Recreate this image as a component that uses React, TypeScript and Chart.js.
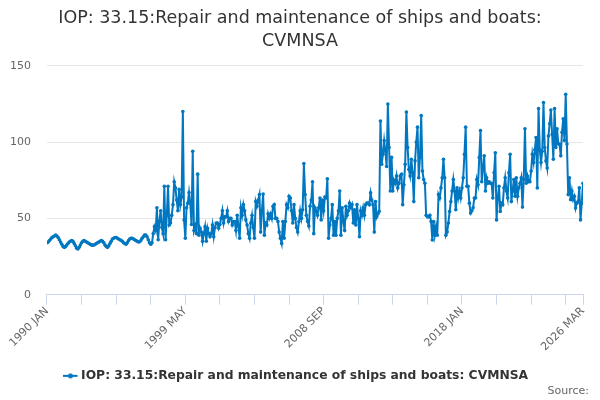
import React, { useEffect, useRef } from 'react';
import { Chart, registerables } from 'chart.js';

Chart.register(...registerables);

const startYear = 1990;
const monthNames = ['JAN', 'FEB', 'MAR', 'APR', 'MAY', 'JUN', 'JUL', 'AUG', 'SEP', 'OCT', 'NOV', 'DEC'];

// 1990 JAN .. 1997 FEB (smooth period)
const values1990 = [
  34, 34.5, 35.5, 36.5, 37.5, 38, 38.5, 39,
  38.5, 37.5, 36, 34.5, 33, 31.5, 31,
  31.5, 32.5, 33.5, 34.5, 35, 35.5, 35,
  33.5, 32, 30.5, 30,
  31, 32.5, 34, 35, 35.5, 35, 34.5,
  34, 33.5, 33, 32.5, 32.5, 32.5,
  33, 33.5, 34, 34.5, 35, 35.5, 35,
  34, 32.5, 31.5, 31,
  32, 33.5, 35, 36.5, 37, 37.5, 37.5,
  37, 36.5, 36, 35.5, 35, 34, 33.5, 33,
  34, 35.5, 36.5, 37, 37,
  36.5, 36, 35.5, 35, 34.5, 34.7,
  35.5, 37, 38, 39, 39,
  38, 36, 34, 33, 34,
];

// 1997 MAR .. 2007 FEB
const values1997 = [
  40, 44.6, 42, 57, 36, 48, 55, 44, 40, 71,
  36, 52, 71, 45.7, 47, 52, 59, 74, 70, 62,
  55, 69, 59, 64, 120, 49, 37, 57, 60, 67,
  60, 46, 94, 42, 45, 40, 79, 39, 43.5, 41,
  35, 40, 44.6, 35, 43.5, 40, 38, 40, 45.7, 38,
  44, 47, 47, 43.5, 46, 50, 55, 47, 51, 51,
  55, 48, 50, 50, 45.7, 48, 48, 42, 52, 45,
  37, 57, 52, 59, 55, 49, 45.7, 40, 37, 47,
  52, 44, 37, 61, 58, 62, 65.6, 41, 55, 66,
  39, 47, 45.7, 53, 50, 53, 50, 58, 59, 50,
  50, 48, 41, 37, 33.6, 48, 37, 48, 59, 57,
  64.5, 63.4, 55, 47, 59, 50, 44, 41, 48, 55,
];

// 2007 MAR .. 2026 MAR
const values2007 = [
  50, 55.7, 86, 65.6, 52, 48, 45, 58, 62, 74,
  40, 57, 55, 52, 57, 63.4, 49, 62, 55, 64,
  63.4, 76, 37, 45.7, 50, 59, 39, 48, 39, 50,
  55, 68, 39, 57, 48, 42, 58, 52, 55, 60,
  57, 59, 47, 55.7, 45.7, 59, 50, 38, 55, 52,
  57, 52, 59, 60, 60, 59, 66.7, 62, 59, 41,
  61, 51, 53, 54.5, 113.8, 85.5, 92, 101, 94, 84,
  125, 96.5, 68, 90, 68, 75, 73, 77.8, 70, 73,
  77.8, 78.9, 59, 72, 85.5, 119.7, 96.5, 82, 77.8, 88.8,
  80, 61, 87.7, 100, 109.8, 76.6, 90, 117.5, 81, 75.5,
  73, 52, 51, 51, 52, 48, 35.8, 48, 39, 44.6,
  39, 65.6, 63.4, 70, 76.6, 88.8, 76.6, 39, 41, 47,
  54.5, 61, 68, 75.5, 68, 55.7, 70, 63.4, 68, 63.4,
  70, 76.6, 92, 109.8, 71, 71, 60, 53.5, 55, 57,
  63.4, 63.4, 75.5, 72, 90, 107.6, 74, 83, 91, 68,
  76.6, 73, 74, 73, 73, 63.4, 80, 93, 49, 63.4,
  71, 54.5, 60, 59, 70, 76.6, 68, 63.4, 80, 92,
  61, 68, 75.5, 64.5, 76.6, 64.5, 70, 73, 76.6, 57.4,
  75.5, 108.7, 73, 77.8, 74, 74, 81, 92, 86.6, 95,
  103, 70, 122, 95, 86.6, 94, 126, 96.5, 87.7, 83,
  104, 112, 121, 105, 88.8, 122, 96.5, 108.7, 98.7, 98.7,
  91, 106.5, 115.3, 101, 131.4, 98.7, 65.6, 76.6, 62.3, 68,
  62.3, 64.5, 56.8, 60, 61, 70, 49, 60, 73,
];

const values = [...values1990, ...values1997, ...values2007];
const categories = values.map((_, i) => `${startYear + Math.floor(i / 12)} ${monthNames[i % 12]}`);
const tickStep = 28;
const labelStep = 112;
const yTicks = [0, 50, 100, 150];

const seriesName = 'IOP: 33.15:Repair and maintenance of ships and boats: CVMNSA';
const lineColor = '#0077c0';

// line-with-dot legend marker; extra blank space on the right nudges it left
function legendSymbol(): HTMLCanvasElement {
  const c = document.createElement('canvas');
  c.width = 20;
  c.height = 6;
  const ctx = c.getContext('2d');
  if (ctx) {
    ctx.strokeStyle = lineColor;
    ctx.lineWidth = 2;
    ctx.beginPath();
    ctx.moveTo(0, 3);
    ctx.lineTo(14, 3);
    ctx.stroke();
    ctx.fillStyle = lineColor;
    ctx.beginPath();
    ctx.arc(7, 3, 2.5, 0, Math.PI * 2);
    ctx.fill();
  }
  return c;
}

const App: React.FC = () => {
  const canvasRef = useRef<HTMLCanvasElement>(null);
  const chartRef = useRef<Chart | null>(null);

  useEffect(() => {
    if (!canvasRef.current) return;
    if (chartRef.current) chartRef.current.destroy();
    const last = values.length - 1;

    chartRef.current = new Chart(canvasRef.current, {
      type: 'line',
      data: {
        datasets: [
          {
            label: seriesName,
            data: values.map((v, i) => ({ x: i, y: v })),
            borderColor: lineColor,
            backgroundColor: lineColor,
            borderWidth: 2,
            pointRadius: 1.8,
            pointBorderWidth: 0,
            pointBackgroundColor: lineColor,
            tension: 0,
          },
        ],
      },
      options: {
        animation: false,
        responsive: true,
        maintainAspectRatio: false,
        // symmetric so title and legend centre on the page
        layout: { padding: { left: -6, right: -6, top: 0, bottom: 8 } },
        plugins: {
          title: {
            display: true,
            text: ['IOP: 33.15:Repair and maintenance of ships and boats:', 'CVMNSA'],
            color: '#333333',
            font: { family: 'DejaVu Sans', size: 17.5, weight: 'normal', lineHeight: 1.31 },
            padding: { top: 7, bottom: 13 },
          },
          legend: {
            position: 'bottom',
            labels: {
              usePointStyle: true,
              pointStyle: legendSymbol(),
              pointStyleWidth: 3,
              color: '#333333',
              font: { family: 'DejaVu Sans', size: 12.3, weight: 'bold' },
              padding: 16,
            },
          },
          tooltip: { enabled: false },
        },
        scales: {
          x: {
            type: 'linear',
            min: 0,
            max: last,
            afterBuildTicks: (scale) => {
              const t: { value: number }[] = [];
              for (let i = 0; i <= last; i += tickStep) t.push({ value: i });
              if (t[t.length - 1].value !== last) t.push({ value: last });
              scale.ticks = t;
            },
            afterFit: (scale) => {
              scale.paddingRight = 17;
            },
            border: { display: true, color: '#ccd6eb', width: 1 },
            grid: { drawOnChartArea: false, drawTicks: true, tickLength: 10, color: '#ccd6eb' },
            ticks: {
              autoSkip: false,
              maxRotation: 45,
              minRotation: 45,
              color: '#666666',
              font: { family: 'DejaVu Sans', size: 11 },
              padding: 0,
              callback: (v) => {
                const i = Number(v);
                return i % labelStep === 0 || i === last ? categories[i] : '';
              },
            },
          },
          y: {
            min: 0,
            max: 150,
            afterBuildTicks: (scale) => {
              scale.ticks = yTicks.map((v) => ({ value: v }));
            },
            border: { display: false },
            grid: { color: '#e6e6e6', drawTicks: false },
            ticks: {
              color: '#666666',
              font: { family: 'DejaVu Sans', size: 11 },
              padding: 16,
            },
          },
        },
      },
    });

    return () => {
      if (chartRef.current) {
        chartRef.current.destroy();
        chartRef.current = null;
      }
    };
  }, []);

  return (
    <div style={{ position: 'absolute', left: 0, top: 0, width: 600, height: 400, background: '#ffffff' }}>
      <canvas ref={canvasRef} />
      <div
        style={{
          position: 'absolute',
          right: 11,
          bottom: 3,
          fontFamily: 'DejaVu Sans',
          fontSize: 11,
          color: '#666666',
        }}
      >
        Source:
      </div>
    </div>
  );
};

export default App;
